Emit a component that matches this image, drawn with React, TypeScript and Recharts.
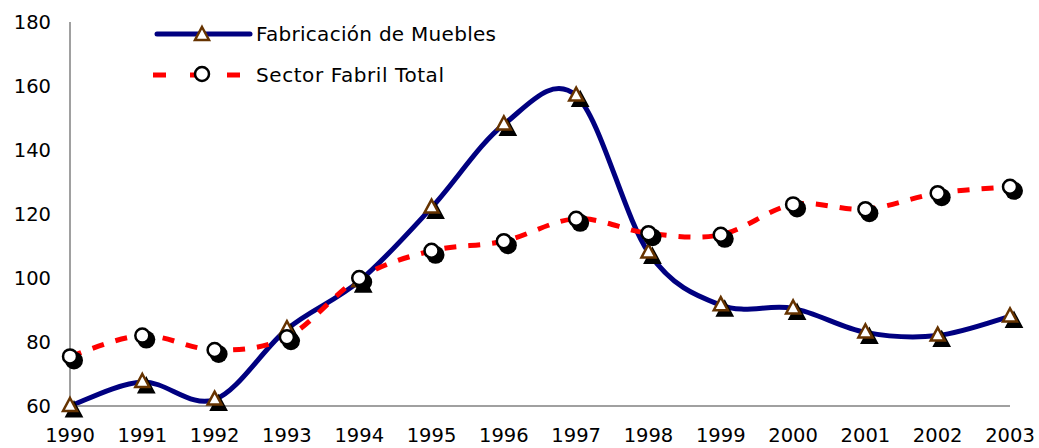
import { LineChart, Line, XAxis, YAxis } from "recharts";

const years = ["1990", "1991", "1992", "1993", "1994", "1995", "1996", "1997", "1998", "1999", "2000", "2001", "2002", "2003"];
const muebles = [60, 67.5, 62, 84, 99, 122, 148, 157, 108, 91.5, 90.5, 83, 82, 88];
const sectorFabril = [75.5, 82, 77.5, 81.5, 100, 108.5, 111.5, 118.5, 114, 113.5, 123, 121.5, 126.5, 128.5];
const yTicks = [60, 80, 100, 120, 140, 160, 180];

const data = years.map((year, i) => ({
  year,
  muebles: muebles[i],
  sector: sectorFabril[i],
}));

const FONT = "Verdana, 'DejaVu Sans', sans-serif";
const NAVY = "#000080";
const RED = "#ff0000";
const BROWN = "#663300";

// smooth curve like the spreadsheet one (catmull-rom, passes through points)
function smoothCurve(context: any) {
  let pts: number[][] = [];
  return {
    areaStart() {},
    areaEnd() {},
    lineStart() {
      pts = [];
    },
    point(x: number, y: number) {
      pts.push([+x, +y]);
    },
    lineEnd() {
      if (!pts.length) return;
      context.moveTo(pts[0][0], pts[0][1]);
      for (let i = 0; i < pts.length - 1; i++) {
        const p0 = pts[Math.max(i - 1, 0)];
        const p1 = pts[i];
        const p2 = pts[i + 1];
        const p3 = pts[Math.min(i + 2, pts.length - 1)];
        context.bezierCurveTo(
          p1[0] + (p2[0] - p0[0]) / 6,
          p1[1] + (p2[1] - p0[1]) / 6,
          p2[0] - (p3[0] - p1[0]) / 6,
          p2[1] - (p3[1] - p1[1]) / 6,
          p2[0],
          p2[1]
        );
      }
    },
  };
}

function triPath(cx: number, cy: number, s = 1) {
  return `M${cx},${cy - 8 * s} L${cx + 7 * s},${cy + 5 * s} L${cx - 7 * s},${cy + 5 * s} Z`;
}

const TriangleDot = (props: any) => {
  const { cx, cy, index } = props;
  if (cx == null || cy == null) return null;
  return (
    <g key={`t${index}`}>
      <path d={triPath(cx + 4, cy + 5, 1.1)} fill="#000" stroke="#000" strokeWidth={2} />
      <path d={triPath(cx, cy)} fill="#fff" stroke={BROWN} strokeWidth={2.5} />
    </g>
  );
};

const CircleDot = (props: any) => {
  const { cx, cy, index } = props;
  if (cx == null || cy == null) return null;
  return (
    <g key={`c${index}`}>
      <circle cx={cx + 4} cy={cy + 4} r={9} fill="#000" />
      <circle cx={cx} cy={cy} r={7} fill="#fff" stroke="#000" strokeWidth={2.5} />
    </g>
  );
};

const LegendBox = () => (
  <svg width={380} height={70} style={{ display: "block" }}>
    <line x1={7} y1={12} x2={100} y2={12} stroke={NAVY} strokeWidth={5} strokeLinecap="round" />
    <path d={triPath(52, 13)} fill="#fff" stroke={BROWN} strokeWidth={2.5} />
    <text x={106} y={19} fontFamily={FONT} fontSize={20} fill="#000" textLength={240} lengthAdjust="spacing">
      Fabricación de Muebles
    </text>
    <line x1={3} y1={53} x2={90} y2={53} stroke={RED} strokeWidth={5} strokeDasharray="13 24" />
    <circle cx={52} cy={52} r={7} fill="#fff" stroke="#000" strokeWidth={2.5} />
    <text x={106} y={60} fontFamily={FONT} fontSize={20} fill="#000" textLength={188} lengthAdjust="spacing">
      Sector Fabril Total
    </text>
  </svg>
);

export default function App() {
  return (
    <div style={{ position: "absolute", left: 0, top: 0, width: 1039, height: 448, background: "#fff" }}>
      <LineChart
        width={1039}
        height={448}
        data={data}
        margin={{ top: 22, right: 29, bottom: 0, left: 0 }}
      >
        <XAxis
          dataKey="year"
          height={42}
          padding={{ left: 0, right: 0 }}
          tickLine={false}
          tickMargin={16}
          axisLine={{ stroke: "#808080", strokeWidth: 1.5 }}
          tick={{ fill: "#000", fontSize: 19.5, fontFamily: FONT }}
          interval={0}
        />
        <YAxis
          width={70}
          domain={[60, 180]}
          ticks={yTicks}
          tickLine={false}
          tickMargin={13}
          axisLine={{ stroke: "#808080", strokeWidth: 1.5 }}
          tick={{ fill: "#000", fontSize: 19.5, fontFamily: FONT }}
          interval={0}
        />
        <Line
          dataKey="muebles"
          type={smoothCurve as any}
          stroke={NAVY}
          strokeWidth={5}
          dot={<TriangleDot />}
          activeDot={false}
          isAnimationActive={false}
        />
        <Line
          dataKey="sector"
          type={smoothCurve as any}
          stroke={RED}
          strokeWidth={5}
          strokeDasharray="12 12"
          dot={<CircleDot />}
          activeDot={false}
          isAnimationActive={false}
        />
      </LineChart>
      <div style={{ position: "absolute", left: 150, top: 22 }}>
        <LegendBox />
      </div>
    </div>
  );
}
